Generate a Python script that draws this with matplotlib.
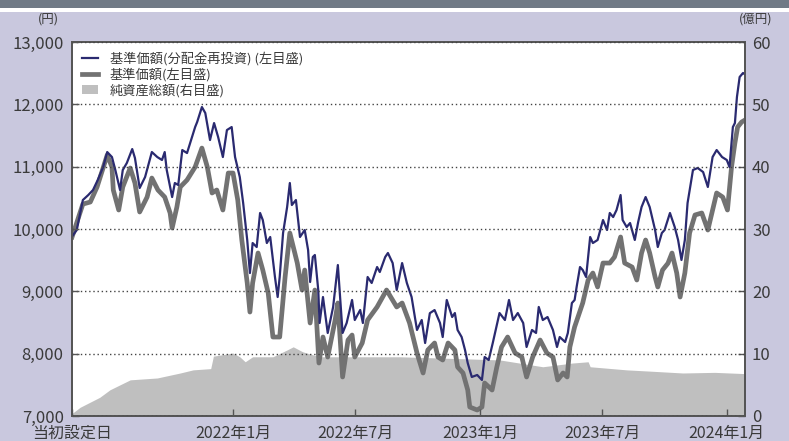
import matplotlib
matplotlib.use("Agg")
import matplotlib.pyplot as plt
import matplotlib.patches as mpatches
import numpy as np

plt.rcParams['font.family'] = ['Noto Sans CJK JP', 'DejaVu Sans']

LAUNCH = np.datetime64('2021-05-08')

# 基準価額(分配金再投資) : days since launch, yen
nav_re_days = [0, 7, 16, 24, 31, 38, 46, 52, 59, 64, 71, 75, 81, 89, 93, 100, 108, 118, 126, 133,
               137, 140, 148, 152, 157, 163, 170, 177, 182, 185, 192, 197, 204, 210, 216, 223, 229,
               236, 241, 248, 253, 259, 263, 267, 273, 278, 282, 288, 293, 300, 304, 307, 312, 318,
               322, 325, 331, 337, 344, 349, 352, 356, 359, 364, 366, 371, 378, 386, 393, 400, 406,
               414, 418, 426, 430, 437, 443, 451, 455, 463, 467, 474, 480, 488, 495, 502, 510, 517,
               522, 529, 536, 544, 548, 554, 562, 566, 570, 576, 581, 585, 591, 599, 606, 610, 616,
               622, 632, 640, 646, 652, 659, 667, 672, 680, 686, 690, 696, 703, 711, 717, 721, 729,
               733, 739, 743, 746, 751, 755, 760, 766, 770, 777, 785, 791, 795, 800, 805, 811, 814,
               820, 825, 832, 837, 842, 848, 854, 862, 866, 872, 876, 884, 891, 896, 901, 906, 910,
               918, 925, 933, 940, 947, 953, 961, 968, 972, 977, 980, 983, 987, 992, 995]
nav_re = [9880, 9984, 10465, 10545, 10626, 10786, 10995, 11235, 11155, 10947, 10626, 10947, 11059,
          11283, 11139, 10658, 10834, 11235, 11155, 11107, 11235, 10947, 10513, 10738, 10706, 11267,
          11219, 11460, 11636, 11717, 11957, 11861, 11428, 11700, 11476, 11155, 11588, 11636, 11155,
          10834, 10417, 9824, 9294, 9775, 9711, 10257, 10144, 9775, 9872, 9230, 8909, 9230, 9936,
          10353, 10738, 10385, 10465, 9872, 9984, 9663, 9150, 9551, 9583, 9021, 8492, 8909, 8332,
          8749, 9422, 8332, 8492, 8861, 8540, 8701, 8492, 9230, 9134, 9390, 9310, 9551, 9615, 9454,
          9021, 9454, 9134, 8909, 8380, 8540, 8171, 8650, 8700, 8492, 8267, 8861, 8588, 8652, 8380,
          8267, 8059, 7850, 7626, 7658, 7578, 7946, 7898, 8171, 8652, 8540, 8861, 8540, 8652, 8492,
          8107, 8380, 8332, 8749, 8540, 8588, 8380, 8107, 8267, 8187, 8332, 8813, 8861, 9070, 9390,
          9342, 9230, 9872, 9775, 9824, 10144, 9984, 10257, 10192, 10305, 10545, 10144, 10032, 10096,
          9824, 10112, 10353, 10513, 10353, 9984, 9711, 9936, 9984, 10257, 10032, 9824, 9503, 9824,
          10417, 10947, 10979, 10914, 10674, 11155, 11267, 11155, 11107, 10995, 11636, 11700, 12118,
          12439, 12503, 12480]

# 基準価額 : days since launch, yen
nav_days = [0, 16, 27, 37, 52, 59, 61, 69, 75, 86, 93, 100, 111, 118, 127, 137, 145, 148, 155, 160,
            170, 182, 192, 200, 207, 214, 223, 231, 238, 245, 251, 259, 263, 267, 275, 282, 290, 297,
            307, 315, 322, 333, 340, 344, 352, 359, 365, 371, 378, 389, 393, 400, 408, 414, 418, 429,
            437, 451, 465, 480, 488, 499, 510, 519, 526, 536, 541, 548, 556, 566, 570, 578, 585, 588,
            599, 606, 610, 621, 628, 635, 644, 655, 665, 672, 681, 692, 702, 711, 714, 718, 726, 732,
            736, 743, 748, 755, 763, 770, 777, 785, 795, 802, 811, 817, 828, 835, 842, 848, 854, 862,
            866, 873, 881, 887, 894, 899, 906, 913, 921, 931, 940, 947, 953, 962, 969, 975, 980, 984,
            990, 995]
nav = [9870, 10400, 10433, 10674, 11187, 10995, 10626, 10305, 10674, 10979, 10738, 10273, 10513,
       10818, 10626, 10513, 10257, 10016, 10353, 10674, 10786, 10995, 11299, 10995, 10578, 10626,
       10305, 10898, 10898, 10465, 9824, 9134, 8668, 9134, 9615, 9342, 8973, 8267, 8267, 9230, 9936,
       9454, 9021, 9342, 8492, 9021, 7850, 8267, 7946, 8540, 8813, 7626, 8219, 8299, 7946, 8171,
       8540, 8749, 9021, 8749, 8813, 8492, 8011, 7690, 8059, 8171, 7946, 7898, 8171, 8059, 7786,
       7690, 7417, 7144, 7096, 7144, 7529, 7417, 7786, 8107, 8267, 8011, 7946, 7626, 7946, 8219,
       8011, 7946, 7786, 7578, 7690, 7626, 8107, 8428, 8588, 8813, 9182, 9294, 9070, 9454, 9454,
       9551, 9872, 9454, 9390, 9182, 9615, 9824, 9615, 9230, 9070, 9342, 9450, 9615, 9294, 8909,
       9294, 9936, 10225, 10257, 9984, 10305, 10578, 10513, 10305, 10995, 11380, 11636, 11717, 11749]

# 純資産総額 : days since launch, 億円
aum_days = [0, 12, 41, 56, 86, 126, 160, 179, 205, 209, 238, 248, 256, 267, 297, 318, 327, 341, 366,
            485, 632, 696, 740, 763, 766, 820, 854, 903, 950, 995]
aum = [0.4, 1.4, 3.0, 4.2, 5.8, 6.1, 6.9, 7.4, 7.6, 9.6, 10.1, 9.5, 8.7, 9.5, 9.5, 10.6, 11.1, 10.3,
       9.5, 9.5, 9.0, 7.9, 8.5, 8.7, 7.9, 7.4, 7.2, 6.9, 7.0, 6.8]

tick_dates = ['2021-05-08', '2022-01-01', '2022-07-01', '2023-01-01', '2023-07-01', '2024-01-01']
tick_labels = ['当初設定日', '2022年1月', '2022年7月', '2023年1月', '2023年7月', '2024年1月']
left_ticks = [7000, 8000, 9000, 10000, 11000, 12000, 13000]
right_ticks = [0, 10, 20, 30, 40, 50, 60]

BG = '#c9c8de'
TXT = '#3a3a3a'

fig = plt.figure(figsize=(7.89, 4.41), dpi=100, facecolor=BG)
fig.patches.append(mpatches.Rectangle((0, 0.982), 1, 0.018, transform=fig.transFigure,
                                      facecolor='#707a86', edgecolor='none', zorder=0))
fig.patches.append(mpatches.Rectangle((0, 0.972), 1, 0.010, transform=fig.transFigure,
                                      facecolor='white', edgecolor='none', zorder=0))

ax = fig.add_axes([0.0913, 0.0567, 0.853, 0.848])
ax2 = ax.twinx()

x_re = LAUNCH + np.array(nav_re_days).astype('timedelta64[D]')
x_nav = LAUNCH + np.array(nav_days).astype('timedelta64[D]')
x_aum = LAUNCH + np.array(aum_days).astype('timedelta64[D]')

h_area = ax2.fill_between(x_aum, 0, aum, color='#bfbfbf', linewidth=0)
ax2.set_ylim(0, 60)
ax2.set_yticks(right_ticks)
ax2.patch.set_visible(True)
ax2.set_facecolor('white')

ax.set_zorder(ax2.get_zorder() + 1)
ax.patch.set_visible(False)

h_nav, = ax.plot(x_nav, nav, color='#727272', linewidth=3.4, solid_joinstyle='round')
h_re, = ax.plot(x_re, nav_re, color='#2a2a70', linewidth=1.6, solid_joinstyle='round')

ax.set_ylim(7000, 13000)
ax.set_yticks(left_ticks)
ax.set_yticklabels([f'{v:,}' for v in left_ticks])
ax.set_xlim(LAUNCH, LAUNCH + np.timedelta64(995, 'D'))
ax.set_xticks(np.array(tick_dates, dtype='datetime64[D]'))
ax.set_xticklabels(tick_labels)

ax.grid(axis='y', linestyle=(0, (1, 2)), color='#444444', linewidth=1.0)
ax.set_axisbelow(False)

for a in (ax, ax2):
    for s in a.spines.values():
        s.set_color('#555555')
        s.set_linewidth(1.3)
ax.tick_params(axis='y', direction='in', length=5, width=1, colors='#555555',
               labelcolor=TXT, labelsize=12, pad=6)
ax.tick_params(axis='x', direction='in', length=5, width=1, colors='#555555',
               labelcolor=TXT, labelsize=11.5, pad=6.5)
ax2.tick_params(axis='y', direction='in', length=5, width=1, colors='#555555',
                labelcolor=TXT, labelsize=12, pad=5)

fig.text(0.061, 0.957, '(円)', ha='center', va='center', fontsize=9, color=TXT)
fig.text(0.958, 0.957, '(億円)', ha='center', va='center', fontsize=9, color=TXT)

leg = ax.legend([h_re, h_nav, h_area],
                ['基準価額(分配金再投資) (左目盛)', '基準価額(左目盛)', '純資産総額(右目盛)'],
                loc='upper left', frameon=False, fontsize=9.5, handlelength=1.2,
                labelspacing=0.15, borderaxespad=0.35, handletextpad=0.9)
for t in leg.get_texts():
    t.set_color(TXT)

fig.savefig('out.png', dpi=100, facecolor=BG)
